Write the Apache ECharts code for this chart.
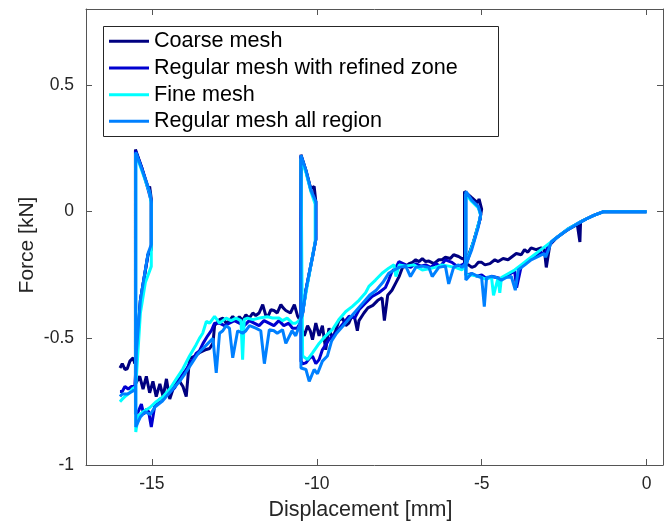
<!DOCTYPE html>
<html><head><meta charset="utf-8">
<script src="https://cdn.jsdelivr.net/npm/echarts@6/dist/echarts.min.js"></script>
<style>html,body{margin:0;padding:0;background:#fff}#c{width:672px;height:526px}</style>
</head><body><div id="c"></div>
<script>
const seriesNames = ['Coarse mesh', 'Regular mesh with refined zone', 'Fine mesh', 'Regular mesh all region'];
const seriesColors = ['#000080', '#0000D0', '#00FFFF', '#0080FF'];
const xTicks = [-15, -10, -5, 0];
const yTicks = [-1, -0.5, 0, 0.5];

const coarse = [[0,0],[-1.3,0],[-1.6,-0.015],[-1.8,-0.027],[-2.0,-0.04],[-2.02,-0.12],[-2.1,-0.05],[-2.4,-0.072],[-2.7,-0.1],[-2.93,-0.13],[-3.04,-0.22],[-3.1,-0.15],[-3.2,-0.143],[-3.35,-0.15],[-3.5,-0.143],[-3.6,-0.16],[-3.7,-0.15],[-3.8,-0.17],[-3.95,-0.165],[-4.1,-0.18],[-4.2,-0.19],[-4.35,-0.185],[-4.5,-0.197],[-4.6,-0.19],[-4.75,-0.205],[-4.9,-0.21],[-5.0,-0.2],[-5.1,-0.2],[-5.2,-0.215],[-5.3,-0.22],[-5.4,-0.21],[-5.52,-0.21],
[-5.52,0.08],[-5.3,0.055],[-5.12,0.035],[-5.08,0.05],[-5.0,0.01],[-5.05,-0.03],[-5.25,-0.12],[-5.45,-0.19],
[-5.6,-0.185],[-5.7,-0.177],[-5.85,-0.17],[-5.95,-0.185],[-6.1,-0.18],[-6.2,-0.19],[-6.3,-0.19],[-6.45,-0.205],[-6.6,-0.195],[-6.7,-0.197],[-6.8,-0.185],[-6.9,-0.197],[-7.0,-0.19],[-7.1,-0.2],[-7.2,-0.205],[-7.3,-0.217],[-7.4,-0.22],[-7.5,-0.255],[-7.6,-0.28],[-7.72,-0.31],[-7.85,-0.33],[-7.95,-0.43],[-8.02,-0.34],[-8.15,-0.35],[-8.3,-0.37],[-8.45,-0.38],[-8.57,-0.4],[-8.72,-0.43],[-8.77,-0.47],[-8.85,-0.42],[-8.93,-0.41],[-9.03,-0.44],[-9.12,-0.45],[-9.22,-0.42],[-9.33,-0.43],[-9.43,-0.47],[-9.53,-0.5],[-9.63,-0.46],[-9.73,-0.545],[-9.83,-0.45],[-9.93,-0.49],[-10.03,-0.44],[-10.13,-0.505],[-10.2,-0.47],[-10.28,-0.45],[-10.38,-0.49],[-10.48,-0.46],
[-10.48,0.225],[-10.33,0.164],[-10.18,0.09],[-10.08,0.1],[-10.03,0.04],[-10.03,-0.11],[-10.13,-0.177],[-10.23,-0.243],[-10.33,-0.31],[-10.43,-0.4],[-10.5,-0.43],
[-10.58,-0.413],[-10.68,-0.367],[-10.8,-0.4],[-10.94,-0.39],[-11.02,-0.38],[-11.09,-0.367],[-11.2,-0.4],[-11.3,-0.39],[-11.39,-0.387],[-11.47,-0.41],[-11.54,-0.413],[-11.64,-0.367],[-11.75,-0.4],[-11.85,-0.41],[-11.94,-0.4],[-12.05,-0.42],[-12.15,-0.407],[-12.25,-0.43],[-12.35,-0.415],[-12.45,-0.43],[-12.55,-0.413],[-12.65,-0.43],[-12.75,-0.44],[-12.85,-0.42],[-12.95,-0.426],[-13.1,-0.45],[-13.15,-0.52],[-13.25,-0.54],[-13.35,-0.544],[-13.45,-0.55],[-13.56,-0.557],[-13.7,-0.57],[-13.86,-0.58],[-13.96,-0.73],[-14.06,-0.69],[-14.21,-0.66],[-14.36,-0.7],[-14.46,-0.74],[-14.56,-0.66],[-14.66,-0.73],[-14.76,-0.68],[-14.87,-0.73],[-14.97,-0.67],[-15.07,-0.715],[-15.17,-0.65],[-15.27,-0.7],[-15.37,-0.65],[-15.5,-0.68],
[-15.5,0.245],[-15.3,0.17],[-15.1,0.09],[-15.07,0.1],[-15.02,0.05],[-15.02,-0.15],[-15.12,-0.17],[-15.35,-0.35],[-15.47,-0.55],[-15.52,-0.6],
[-15.57,-0.577],[-15.67,-0.59],[-15.75,-0.62],[-15.82,-0.623],[-15.9,-0.6],[-15.97,-0.617]];

const refined = [[0,0],[-1.3,0],[-1.6,-0.015],[-1.8,-0.027],[-2.0,-0.04],[-2.2,-0.055],[-2.4,-0.07],[-2.6,-0.09],[-2.8,-0.11],[-3.0,-0.14],[-3.08,-0.17],[-3.2,-0.16],[-3.4,-0.175],[-3.6,-0.195],[-3.8,-0.215],[-3.94,-0.3],[-4.0,-0.235],[-4.2,-0.25],[-4.4,-0.265],[-4.55,-0.26],[-4.7,-0.255],[-4.85,-0.265],[-5.0,-0.25],[-5.15,-0.255],[-5.3,-0.245],[-5.48,-0.25],
[-5.48,0.075],[-5.3,0.045],[-5.1,0.02],[-5.03,-0.01],[-5.05,-0.03],[-5.25,-0.12],[-5.45,-0.2],
[-5.6,-0.21],[-5.75,-0.215],[-5.9,-0.2],[-6.1,-0.19],[-6.25,-0.215],[-6.4,-0.205],[-6.55,-0.22],[-6.7,-0.21],[-6.85,-0.215],[-7.0,-0.205],[-7.15,-0.22],[-7.3,-0.21],[-7.51,-0.197],[-7.6,-0.22],[-7.72,-0.236],[-7.82,-0.27],[-7.92,-0.3],[-8.12,-0.32],[-8.32,-0.335],[-8.52,-0.36],[-8.72,-0.387],[-8.85,-0.42],[-9.02,-0.413],[-9.23,-0.446],[-9.43,-0.48],[-9.63,-0.505],[-9.83,-0.545],[-9.93,-0.584],[-10.03,-0.6],[-10.13,-0.57],[-10.23,-0.58],[-10.33,-0.597],[-10.43,-0.6],[-10.48,-0.59],
[-10.48,0.22],[-10.33,0.16],[-10.18,0.085],[-10.03,0.04],[-10.03,-0.11],[-10.13,-0.18],[-10.23,-0.245],[-10.33,-0.31],[-10.43,-0.4],[-10.5,-0.44],
[-10.6,-0.46],[-10.74,-0.46],[-10.85,-0.44],[-11.0,-0.45],[-11.15,-0.43],[-11.3,-0.45],[-11.45,-0.44],[-11.6,-0.43],[-11.75,-0.45],[-11.9,-0.44],[-12.05,-0.43],[-12.2,-0.45],[-12.35,-0.44],[-12.5,-0.43],[-12.65,-0.44],[-12.8,-0.45],[-12.95,-0.44],[-13.1,-0.44],[-13.2,-0.47],[-13.31,-0.49],[-13.45,-0.52],[-13.56,-0.55],[-13.66,-0.56],[-13.76,-0.584],[-13.86,-0.6],[-13.96,-0.623],[-14.06,-0.64],[-14.16,-0.66],[-14.31,-0.695],[-14.46,-0.715],[-14.61,-0.73],[-14.76,-0.74],[-14.92,-0.77],[-15.02,-0.85],[-15.1,-0.79],[-15.17,-0.78],[-15.25,-0.8],[-15.32,-0.76],[-15.42,-0.79],[-15.5,-0.8],
[-15.5,0.24],[-15.3,0.17],[-15.1,0.08],[-15.02,0.04],[-15.02,-0.14],[-15.12,-0.17],[-15.35,-0.35],[-15.48,-0.6],[-15.52,-0.69],
[-15.62,-0.69],[-15.72,-0.7],[-15.82,-0.69],[-15.9,-0.71],[-15.97,-0.71]];

const fine = [[0,0],[-1.3,0],[-1.6,-0.015],[-1.8,-0.027],[-2.0,-0.04],[-2.2,-0.055],[-2.4,-0.07],[-2.6,-0.09],[-2.8,-0.11],[-3.0,-0.13],[-3.2,-0.15],[-3.4,-0.17],[-3.6,-0.19],[-3.8,-0.21],[-4.0,-0.23],[-4.2,-0.245],[-4.4,-0.26],[-4.45,-0.32],[-4.5,-0.26],[-4.64,-0.33],[-4.7,-0.26],[-4.9,-0.265],[-5.1,-0.255],[-5.3,-0.25],[-5.48,-0.25],
[-5.48,0.07],[-5.3,0.04],[-5.1,0.015],[-5.03,-0.015],[-5.2,-0.1],[-5.45,-0.2],
[-5.6,-0.23],[-5.8,-0.22],[-6.0,-0.215],[-6.2,-0.21],[-6.4,-0.22],[-6.6,-0.225],[-6.8,-0.23],[-7.06,-0.21],[-7.3,-0.215],[-7.5,-0.21],[-7.6,-0.256],[-7.66,-0.21],[-7.82,-0.223],[-8.02,-0.243],[-8.22,-0.27],[-8.42,-0.295],[-8.52,-0.32],[-8.72,-0.35],[-8.92,-0.374],[-9.12,-0.394],[-9.33,-0.426],[-9.53,-0.466],[-9.73,-0.49],[-9.93,-0.52],[-10.13,-0.557],[-10.28,-0.584],[-10.43,-0.57],[-10.48,-0.57],
[-10.48,0.21],[-10.33,0.155],[-10.18,0.08],[-10.05,0.03],[-10.05,-0.12],[-10.15,-0.19],[-10.3,-0.3],[-10.45,-0.41],[-10.53,-0.43],
[-10.64,-0.44],[-10.74,-0.44],[-10.9,-0.42],[-11.04,-0.43],[-11.14,-0.42],[-11.34,-0.42],[-11.5,-0.415],[-11.74,-0.42],[-11.94,-0.426],[-12.1,-0.42],[-12.2,-0.425],[-12.25,-0.584],[-12.3,-0.43],[-12.45,-0.42],[-12.6,-0.43],[-12.75,-0.42],[-12.85,-0.43],[-12.95,-0.44],[-13.1,-0.413],[-13.25,-0.44],[-13.35,-0.433],[-13.46,-0.48],[-13.56,-0.5],[-13.66,-0.525],[-13.86,-0.57],[-14.06,-0.62],[-14.26,-0.66],[-14.46,-0.7],[-14.66,-0.73],[-14.87,-0.75],[-15.07,-0.774],[-15.27,-0.79],[-15.42,-0.807],[-15.49,-0.87],
[-15.49,0.23],[-15.3,0.16],[-15.07,0.075],[-15.02,0.03],[-15.02,-0.216],[-15.2,-0.28],[-15.35,-0.4],[-15.49,-0.69],
[-15.6,-0.7],[-15.67,-0.715],[-15.82,-0.73],[-15.9,-0.74],[-15.97,-0.75]];

const allRegion = [[0,0],[-1.3,0],[-1.6,-0.015],[-1.8,-0.027],[-2.07,-0.046],[-2.48,-0.079],[-2.88,-0.118],[-3.06,-0.18],[-3.1,-0.165],[-3.28,-0.177],[-3.5,-0.19],[-3.69,-0.21],[-3.89,-0.23],[-3.98,-0.31],[-4.1,-0.256],[-4.25,-0.26],[-4.4,-0.27],[-4.55,-0.26],[-4.7,-0.256],[-4.85,-0.26],[-4.92,-0.375],[-5.0,-0.26],[-5.1,-0.256],[-5.3,-0.243],[-5.48,-0.27],
[-5.48,0.08],[-5.3,0.045],[-5.1,0.02],[-5.03,-0.01],[-5.1,-0.06],[-5.3,-0.15],[-5.45,-0.2],
[-5.6,-0.22],[-5.7,-0.21],[-5.85,-0.22],[-6.0,-0.285],[-6.1,-0.215],[-6.3,-0.22],[-6.5,-0.256],[-6.6,-0.22],[-6.8,-0.215],[-7.0,-0.22],[-7.16,-0.256],[-7.3,-0.215],[-7.5,-0.22],[-7.65,-0.23],[-7.82,-0.243],[-8.0,-0.28],[-8.2,-0.31],[-8.4,-0.33],[-8.6,-0.36],[-8.8,-0.39],[-9.0,-0.42],[-9.2,-0.45],[-9.4,-0.48],[-9.55,-0.51],[-9.68,-0.57],[-9.83,-0.59],[-9.98,-0.64],[-10.08,-0.623],[-10.23,-0.67],[-10.33,-0.623],[-10.48,-0.617],
[-10.48,0.223],[-10.33,0.164],[-10.18,0.085],[-10.03,0.04],[-10.03,-0.11],[-10.13,-0.177],[-10.23,-0.243],[-10.33,-0.31],[-10.43,-0.4],[-10.53,-0.45],
[-10.64,-0.49],[-10.75,-0.47],[-10.94,-0.52],[-11.04,-0.466],[-11.2,-0.48],[-11.3,-0.47],[-11.44,-0.466],[-11.59,-0.6],[-11.7,-0.47],[-11.85,-0.46],[-12.04,-0.45],[-12.15,-0.47],[-12.25,-0.48],[-12.4,-0.47],[-12.55,-0.577],[-12.65,-0.46],[-12.75,-0.45],[-12.85,-0.47],[-12.95,-0.48],[-13.05,-0.636],[-13.15,-0.5],[-13.3,-0.52],[-13.45,-0.54],[-13.6,-0.56],[-13.8,-0.6],[-14.0,-0.64],[-14.16,-0.67],[-14.3,-0.69],[-14.5,-0.72],[-14.7,-0.75],[-14.9,-0.77],[-15.05,-0.8],[-15.2,-0.79],[-15.35,-0.81],[-15.49,-0.85],
[-15.49,0.235],[-15.3,0.165],[-15.07,0.08],[-15.02,0.04],[-15.02,-0.13],[-15.12,-0.165],[-15.35,-0.35],[-15.47,-0.55],[-15.5,-0.7],
[-15.6,-0.71],[-15.75,-0.72],[-15.9,-0.72],[-15.97,-0.73]];

const seriesData = [coarse, refined, fine, allRegion];
const font = '"Liberation Sans", Arial, Helvetica, sans-serif';
const axisColor = '#555';
const textColor = '#262626';

const chart = echarts.init(document.getElementById('c'), null, {renderer: 'canvas'});
const xBase = {type: 'value', min: -17, max: 0.5, splitLine: {show: false},
  axisLine: {onZero: false, lineStyle: {color: axisColor, width: 1}},
  axisTick: {inside: true, length: 6, customValues: xTicks, lineStyle: {color: axisColor}}};
const yBase = {type: 'value', min: -1, max: 0.8, splitLine: {show: false},
  axisLine: {onZero: false, lineStyle: {color: axisColor, width: 1}},
  axisTick: {inside: true, length: 6, customValues: yTicks, lineStyle: {color: axisColor}}};

chart.setOption({
  animation: false,
  backgroundColor: '#fff',
  grid: {left: 86, top: 9, width: 577, height: 458, containLabel: false},
  xAxis: [
    Object.assign({}, xBase, {position: 'bottom',
      axisLabel: {customValues: xTicks, margin: 10, color: textColor, fontSize: 17.5, fontFamily: font},
      name: 'Displacement [mm]', nameLocation: 'middle', nameGap: 34,
      nameTextStyle: {color: textColor, fontSize: 21.5, fontFamily: font, padding: [0, 28, 0, 0]}}),
    Object.assign({}, xBase, {position: 'top', axisLabel: {show: false}})
  ],
  yAxis: [
    Object.assign({}, yBase, {position: 'left',
      axisLabel: {customValues: yTicks, margin: 12, color: textColor, fontSize: 17.5, fontFamily: font},
      name: 'Force [kN]', nameLocation: 'middle', nameGap: 48, nameMoveOverlap: false,
      nameTextStyle: {color: textColor, fontSize: 21, fontFamily: font, padding: [0, 16, 0, 0]}}),
    Object.assign({}, yBase, {position: 'right', axisLabel: {show: false}})
  ],
  legend: {
    orient: 'vertical', left: 109, top: 28, padding: 0,
    icon: 'rect', itemWidth: 40, itemHeight: 3, itemGap: 0,
    textStyle: {fontSize: 21.6, fontFamily: font, color: '#000', lineHeight: 26.67},
    data: seriesNames
  },
  graphic: [{type: 'rect', shape: {x: 103.5, y: 26.5, width: 395, height: 110},
    style: {fill: 'none', stroke: '#262626', lineWidth: 1}, silent: true, z: 100}],
  series: seriesData.map((d, i) => ({
    name: seriesNames[i], type: 'line', data: d, symbol: 'none', showSymbol: false,
    color: seriesColors[i], itemStyle: {color: seriesColors[i]},
    lineStyle: {width: 3, color: seriesColors[i]},
    xAxisIndex: 0, yAxisIndex: 0, clip: true
  }))
});
</script>
</body></html>
